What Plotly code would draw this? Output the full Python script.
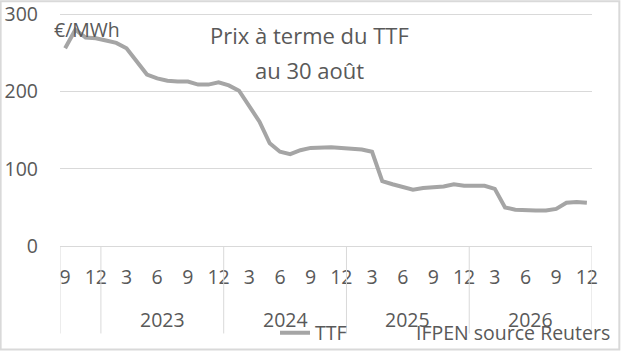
import plotly.graph_objects as go

# ---- data ----
years = [2022]*4 + [2023]*12 + [2024]*12 + [2025]*12 + [2026]*12
months = [9, 10, 11, 12] + list(range(1, 13))*4
ttf = [256, 280, 270, 269, 266, 263, 256, 238, 222, 217, 214, 213,
       213, 209, 209, 212, 208, 201, 181, 161, 133, 122, 119, 124,
       127, 128, 128, 127, 126, 125, 122, 84, 80, 77, 73, 75,
       76, 77, 80, 78, 78, 78, 74, 50, 47, 46, 46, 46,
       48, 56, 57, 56]
year_labels = ["2023", "2024", "2025", "2026"]
y_ticks = [0, 100, 200, 300]

W, H = 621, 352
L, R, B = 60.3, 591.7, 246.3
PX100 = 77.43  # pixels per 100 units
YMAX = 303
T = B - PX100 * YMAX / 100
FONT = "Open Sans"
TXT = "#595959"
GRID = "#D9D9D9"

def px(x):
    return (x - L) / (R - L)

def py(y):
    return (B - y) / (B - T)

idx = list(range(len(ttf)))
tickvals = [i for i, m in enumerate(months) if m % 3 == 0]
ticktext = [str(months[i]) for i in tickvals]

fig = go.Figure()
fig.add_trace(go.Scatter(x=idx, y=ttf, mode="lines", name="TTF",
                         line=dict(color="#A5A5A5", width=4)))

shapes = []
bounds = [-0.5]
for i in range(1, len(years)):
    if years[i] != years[i-1]:
        bounds.append(i - 0.5)
bounds.append(len(years) - 0.5)
for b in bounds:
    shapes.append(dict(type="line", xref="x", yref="paper", x0=b, x1=b,
                       y0=0, y1=py(334), line=dict(color=GRID, width=1)))
shapes.append(dict(type="rect", xref="paper", yref="paper",
                   x0=px(1), x1=px(619), y0=py(1), y1=py(350),
                   line=dict(color=GRID, width=2)))

annotations = []
for yl in year_labels:
    ids = [i for i, y in enumerate(years) if str(y) == yl]
    c = (ids[0] + ids[-1]) / 2
    annotations.append(dict(x=c, y=py(320), xref="x", yref="paper", text=yl,
                            showarrow=False, font=dict(size=19.5, color=TXT, family=FONT),
                            xanchor="center", yanchor="middle"))
annotations.append(dict(x=px(310), y=py(35), xref="paper", yref="paper",
                        text="Prix à terme du TTF", showarrow=False,
                        font=dict(size=22, color=TXT, family=FONT),
                        xanchor="center", yanchor="middle"))
annotations.append(dict(x=px(310), y=py(70), xref="paper", yref="paper",
                        text="au 30 août", showarrow=False,
                        font=dict(size=22, color=TXT, family=FONT),
                        xanchor="center", yanchor="middle"))
annotations.append(dict(x=px(52), y=py(29), xref="paper", yref="paper",
                        text="€/MWh", showarrow=False,
                        font=dict(size=19.5, color=TXT, family=FONT),
                        xanchor="left", yanchor="middle"))
annotations.append(dict(x=px(612), y=py(333), xref="paper", yref="paper",
                        text="IFPEN source Reuters", showarrow=False,
                        font=dict(size=19.5, color=TXT, family=FONT),
                        xanchor="right", yanchor="middle"))

fig.update_layout(
    width=W, height=H,
    margin=dict(l=L, r=W - R, t=T, b=H - B, autoexpand=False),
    paper_bgcolor="white", plot_bgcolor="white",
    font=dict(family=FONT, size=19.5, color=TXT),
    showlegend=True,
    legend=dict(xref="container", yref="container",
                x=275 / W, y=1 - 333 / H, xanchor="left", yanchor="middle",
                orientation="h", bgcolor="rgba(0,0,0,0)",
                font=dict(size=19.5, color=TXT, family=FONT)),
    xaxis=dict(range=[-0.5, len(ttf) - 0.5], tickvals=tickvals, ticktext=ticktext,
               showgrid=False, zeroline=False, showline=True, linecolor=GRID,
               linewidth=1, ticks="", tickfont=dict(size=19.5, color=TXT, family=FONT),
               ticklabelstandoff=14),
    yaxis=dict(range=[0, YMAX], tickvals=y_ticks, showgrid=True, gridcolor=GRID,
               gridwidth=1, zeroline=False, showline=False, ticks="",
               tickfont=dict(size=19.5, color=TXT, family=FONT),
               ticklabelstandoff=21, ticklabeloverflow="allow"),
    shapes=shapes, annotations=annotations,
)

fig.write_html("out.html")
